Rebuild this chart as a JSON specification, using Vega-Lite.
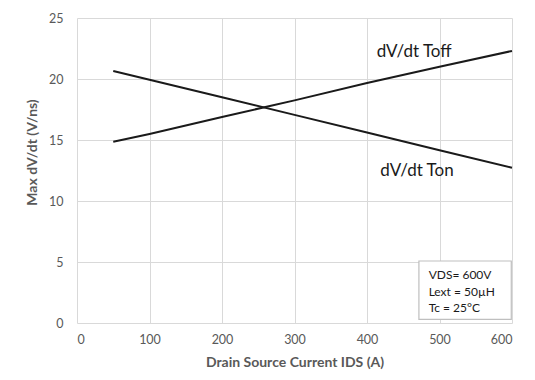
{
  "$schema": "https://vega.github.io/schema/vega-lite/v6.json",
  "autosize": "none",
  "width": 435,
  "height": 305,
  "padding": {"left": 77, "top": 18, "right": 23, "bottom": 57},
  "background": "white",
  "config": {
    "view": {"stroke": null},
    "font": "Lato",
    "axis": {
      "gridColor": "#d9d9d9",
      "gridWidth": 1,
      "domain": false,
      "ticks": false,
      "labelColor": "#595959",
      "labelFont": "Lato",
      "labelFontSize": 12.5,
      "titleColor": "#595959",
      "titleFont": "Lato",
      "titleFontSize": 14,
      "titleFontWeight": "bold"
    }
  },
  "datasets": {
    "curves": [
      {"ids": 50, "dvdt": 14.86, "series": "Toff"},
      {"ids": 100, "dvdt": 15.5, "series": "Toff"},
      {"ids": 200, "dvdt": 16.89, "series": "Toff"},
      {"ids": 300, "dvdt": 18.25, "series": "Toff"},
      {"ids": 400, "dvdt": 19.68, "series": "Toff"},
      {"ids": 500, "dvdt": 21.0, "series": "Toff"},
      {"ids": 600, "dvdt": 22.3, "series": "Toff"},
      {"ids": 50, "dvdt": 20.66, "series": "Ton"},
      {"ids": 100, "dvdt": 19.94, "series": "Ton"},
      {"ids": 200, "dvdt": 18.5, "series": "Ton"},
      {"ids": 300, "dvdt": 17.06, "series": "Ton"},
      {"ids": 400, "dvdt": 15.61, "series": "Ton"},
      {"ids": 500, "dvdt": 14.16, "series": "Ton"},
      {"ids": 600, "dvdt": 12.73, "series": "Ton"}
    ],
    "labels": [
      {"ids": 465, "dvdt": 22.2, "text": "dV/dt Toff"},
      {"ids": 469, "dvdt": 12.5, "text": "dV/dt Ton"}
    ],
    "box": [
      {"x1": 471.6, "x2": 599, "y1": 0.3, "y2": 5.08}
    ],
    "boxtext": [
      {"ids": 485, "dvdt": 3.93, "text": "VDS= 600V"},
      {"ids": 485, "dvdt": 2.57, "text": "Lext = 50µH"},
      {"ids": 485, "dvdt": 1.2, "text": "Tc = 25°C"}
    ]
  },
  "layer": [
    {
      "data": {"name": "curves"},
      "mark": {"type": "line", "color": "#1a1a1a", "strokeWidth": 2},
      "encoding": {
        "x": {
          "field": "ids", "type": "quantitative",
          "scale": {"domain": [0, 600], "nice": false},
          "axis": {"values": [0, 100, 200, 300, 400, 500, 600], "title": "Drain Source Current IDS (A)", "labelPadding": 10, "titlePadding": 10}
        },
        "y": {
          "field": "dvdt", "type": "quantitative",
          "scale": {"domain": [0, 25], "nice": false},
          "axis": {"values": [0, 5, 10, 15, 20, 25], "title": "Max dV/dt (V/ns)", "labelPadding": 14, "titleX": -45, "titleY": 134, "titleBaseline": "middle", "titleAlign": "center", "titleAngle": 270}
        },
        "detail": {"field": "series"}
      }
    },
    {
      "data": {"name": "labels"},
      "mark": {"type": "text", "font": "Lato", "fontSize": 17, "color": "#1a1a1a", "align": "center", "baseline": "middle"},
      "encoding": {
        "x": {"field": "ids", "type": "quantitative"},
        "y": {"field": "dvdt", "type": "quantitative"},
        "text": {"field": "text"}
      }
    },
    {
      "data": {"name": "box"},
      "mark": {"type": "rect", "fill": "white", "stroke": "#bfbfbf", "strokeWidth": 1.2},
      "encoding": {
        "x": {"field": "x1", "type": "quantitative"},
        "x2": {"field": "x2"},
        "y": {"field": "y1", "type": "quantitative"},
        "y2": {"field": "y2"}
      }
    },
    {
      "data": {"name": "boxtext"},
      "mark": {"type": "text", "font": "Lato", "fontSize": 12, "color": "#1a1a1a", "align": "left", "baseline": "middle"},
      "encoding": {
        "x": {"field": "ids", "type": "quantitative"},
        "y": {"field": "dvdt", "type": "quantitative"},
        "text": {"field": "text"}
      }
    }
  ]
}
